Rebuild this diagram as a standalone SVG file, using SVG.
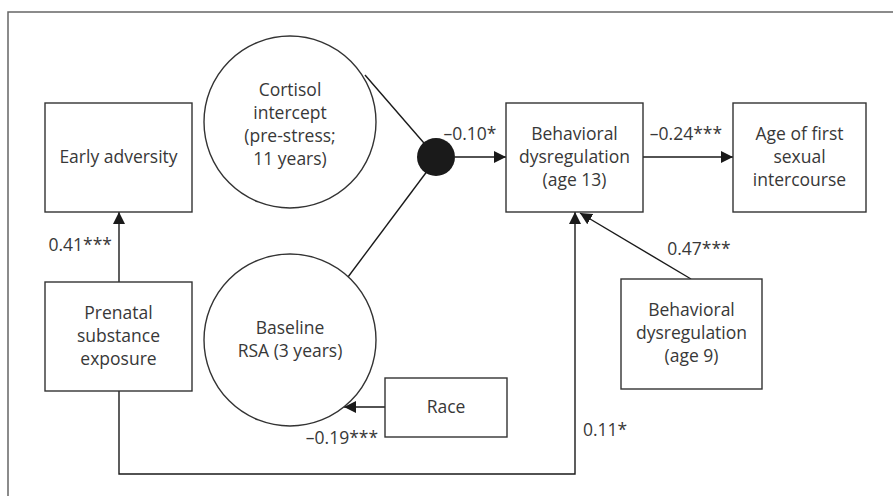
<svg xmlns="http://www.w3.org/2000/svg" width="893" height="496" viewBox="0 0 893 496">
<defs>
<marker id="arr" markerUnits="userSpaceOnUse" markerWidth="13" markerHeight="13" viewBox="0 0 13 13" refX="12" refY="6.5" orient="auto">
<path d="M0,0.5 L12,6.5 L0,12.5 Z" fill="#1a1a1a"/>
</marker>
<style>
.box{fill:#fff;stroke:#333;stroke-width:1.4}
.t{font-family:"Open Sans","Noto Sans","DejaVu Sans",sans-serif;font-size:17.5px;fill:#383838;text-anchor:middle}
.l{font-family:"Open Sans","Noto Sans","DejaVu Sans",sans-serif;font-size:17.5px;fill:#383838}
.c{fill:none;stroke:#1a1a1a;stroke-width:1.4}
</style>
</defs>
<rect width="893" height="496" fill="#fff"/>
<path d="M8,496 V12 H893" fill="none" stroke="#666" stroke-width="1.5"/>
<g id="connectors">
<line class="c" x1="119" y1="282" x2="119" y2="212" marker-end="url(#arr)"/>
<line class="c" x1="365" y1="75" x2="430" y2="150"/>
<line class="c" x1="348" y1="277" x2="428" y2="170"/>
<line class="c" x1="455" y1="157" x2="506" y2="157" marker-end="url(#arr)"/>
<line class="c" x1="643" y1="157" x2="733" y2="157" marker-end="url(#arr)"/>
<line class="c" x1="385" y1="407" x2="344" y2="407" marker-end="url(#arr)"/>
<path class="c" d="M119,391 V474 H575 V212" marker-end="url(#arr)"/>
<line class="c" x1="691" y1="279" x2="580" y2="213" marker-end="url(#arr)"/>
<text class="l" x="470" y="140" text-anchor="middle">–0.10*</text>
<text class="l" x="686" y="140" text-anchor="middle">–0.24***</text>
<text class="l" x="112" y="251" text-anchor="end">0.41***</text>
<text class="l" x="699" y="255" text-anchor="middle">0.47***</text>
<text class="l" x="342" y="444" text-anchor="middle">–0.19***</text>
<text class="l" x="583" y="436">0.11*</text>
</g>
<g id="dot"><circle cx="436" cy="157" r="19" fill="#1a1a1a"/></g>
<g id="early-adversity">
<rect class="box" x="45" y="103" width="147" height="109"/>
<text class="t" x="118.5" y="163">Early adversity</text>
</g>
<g id="cortisol">
<circle class="box" cx="290" cy="122" r="86"/>
<text class="t" x="290" y="96">Cortisol</text>
<text class="t" x="290" y="119">intercept</text>
<text class="t" x="290" y="142">(pre-stress;</text>
<text class="t" x="290" y="165">11 years)</text>
</g>
<g id="behav13">
<rect class="box" x="506" y="103" width="137" height="109"/>
<text class="t" x="574.5" y="140">Behavioral</text>
<text class="t" x="574.5" y="163">dysregulation</text>
<text class="t" x="574.5" y="186">(age 13)</text>
</g>
<g id="age-first">
<rect class="box" x="733" y="103" width="133" height="109"/>
<text class="t" x="799.5" y="140">Age of first</text>
<text class="t" x="799.5" y="163">sexual</text>
<text class="t" x="799.5" y="186">intercourse</text>
</g>
<g id="prenatal">
<rect class="box" x="45" y="282" width="147" height="109"/>
<text class="t" x="118.5" y="319">Prenatal</text>
<text class="t" x="118.5" y="342">substance</text>
<text class="t" x="118.5" y="365">exposure</text>
</g>
<g id="baseline-rsa">
<circle class="box" cx="290" cy="340" r="86"/>
<text class="t" x="290" y="334">Baseline</text>
<text class="t" x="290" y="357">RSA (3 years)</text>
</g>
<g id="race">
<rect class="box" x="385" y="378" width="122" height="59"/>
<text class="t" x="446" y="413">Race</text>
</g>
<g id="behav9">
<rect class="box" x="621" y="279" width="141" height="110"/>
<text class="t" x="691.5" y="316">Behavioral</text>
<text class="t" x="691.5" y="339">dysregulation</text>
<text class="t" x="691.5" y="362">(age 9)</text>
</g>
</svg>
